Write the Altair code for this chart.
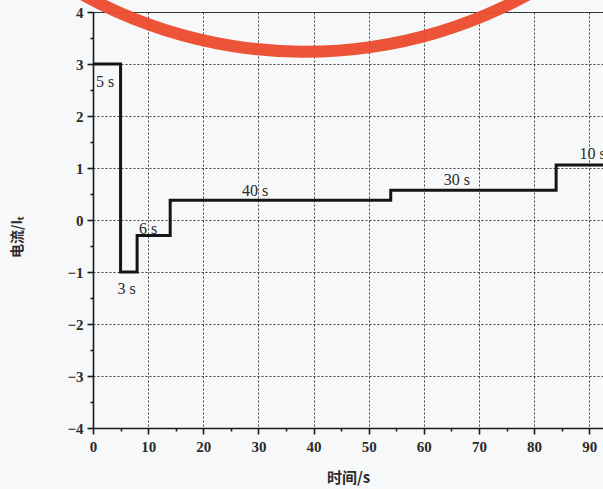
import altair as alt
import pandas as pd

# step profile (time in s, current in I_t)
step_time = [0, 5, 8, 14, 54, 84, 100]
step_current = [3, -1, -0.3, 0.38, 0.57, 1.06, 1.06]

# duration labels
label_text = ["5 s", "3 s", "6 s", "40 s", "30 s", "10 s"]
label_time = [2.2, 6.1, 10.0, 29.4, 66.0, 90.6]
label_current = [2.65, -1.32, -0.18, 0.56, 0.77, 1.27]

x_major = [0, 10, 20, 30, 40, 50, 60, 70, 80, 90]
x_minor = [5, 15, 25, 35, 45, 55, 65, 75, 85, 95]
y_major = [-4, -3, -2, -1, 0, 1, 2, 3, 4]
y_minor = [-3.5, -2.5, -1.5, -0.5, 0.5, 1.5, 2.5, 3.5]

# red stamp circle partly visible at the top (centre in data units)
stamp_time = [38.5]
stamp_current = [12.12]

step_df = pd.DataFrame({"t": step_time, "i": step_current})
label_df = pd.DataFrame({"t": label_time, "i": label_current, "txt": label_text})
stamp_df = pd.DataFrame({"t": stamp_time, "i": stamp_current})
top_df = pd.DataFrame({"t": [0], "t2": [100], "i": [4]})

xscale = alt.Scale(domain=[0, 92.5], nice=False, zero=False)
yscale = alt.Scale(domain=[-4, 4], nice=False, zero=False)

SERIF = "Liberation Serif"
CJK = "Noto Sans CJK SC"

x_axis = alt.Axis(
    values=x_major, orient="bottom", title="时间/s", grid=True,
    gridColor="#2a2a2a", gridDash=[2, 2], gridWidth=1, gridOpacity=0.9,
    domainColor="#1a1a1a", domainWidth=1.6, tickColor="#1a1a1a", tickWidth=1.6,
    tickSize=6, labelPadding=5, labelFont=SERIF, labelFontSize=15,
    labelFontWeight="bold", labelColor="#2a2a2a", labelFlush=False,
    titleFont=CJK, titleFontSize=15, titleFontWeight="bold",
    titleColor="#2a2a2a", titlePadding=16,
)
y_axis = alt.Axis(
    values=y_major, orient="left", title="电流/Iₜ", grid=True,
    gridColor="#2a2a2a", gridDash=[2, 2], gridWidth=1, gridOpacity=0.9,
    domainColor="#1a1a1a", domainWidth=1.6, tickColor="#1a1a1a", tickWidth=1.6,
    tickSize=6, labelPadding=4, labelFont=SERIF, labelFontSize=15,
    labelFontWeight="bold", labelColor="#2a2a2a", labelFlush=False,
    titleFont=CJK, titleFontSize=14, titleFontWeight="bold",
    titleColor="#2a2a2a", titlePadding=42, titleY=225,
)

step = alt.Chart(step_df).mark_line(
    interpolate="step-after", color="#151515", strokeWidth=3, clip=True
).encode(
    x=alt.X("t:Q", scale=xscale, axis=x_axis),
    y=alt.Y("i:Q", scale=yscale, axis=y_axis),
)

minor = alt.Chart(top_df).mark_rule(color="#151515", strokeWidth=1.6, clip=True).encode(
    x=alt.X("t:Q", scale=xscale, axis=alt.Axis(
        values=x_minor, orient="bottom", labels=False, title=None, grid=False,
        domain=False, tickSize=3, tickWidth=1.6, tickColor="#1a1a1a")),
    x2="t2:Q",
    y=alt.Y("i:Q", scale=yscale, axis=alt.Axis(
        values=y_minor, orient="left", labels=False, title=None, grid=False,
        domain=False, tickSize=3, tickWidth=1.6, tickColor="#1a1a1a")),
)

labels = alt.Chart(label_df).mark_text(
    font=SERIF, fontSize=16, color="#2a2a2a", clip=True
).encode(
    x=alt.X("t:Q", scale=xscale, axis=None),
    y=alt.Y("i:Q", scale=yscale, axis=None),
    text="txt:N",
)

stamp = alt.Chart(stamp_df).mark_arc(
    theta=2.55, theta2=3.75, radius=456, radius2=468,
    color="#ec4a2c", opacity=0.95,
).encode(
    x=alt.X("t:Q", scale=xscale, axis=None),
    y=alt.Y("i:Q", scale=yscale, axis=None),
)

chart = alt.layer(step, minor, labels, stamp).resolve_axis(
    x="independent", y="independent"
).properties(
    width=510, height=416,
    autosize=alt.AutoSizeParams(type="none"),
    padding={"left": 93, "top": 12, "right": 0, "bottom": 61},
    background="#f7f8f9",
).configure_view(stroke=None)

chart.save("out.html", embed_options={"renderer": "svg", "actions": False})
